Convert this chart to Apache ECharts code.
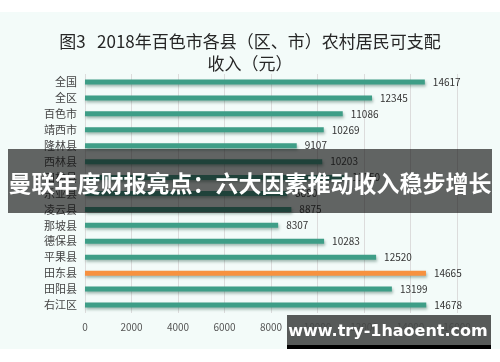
<!DOCTYPE html>
<html><head><meta charset="utf-8">
<script src="https://cdn.jsdelivr.net/npm/echarts@6/dist/echarts.min.js"></script>
<style>html,body{margin:0;padding:0;background:#fff;}#c{width:500px;height:362px;}</style>
</head><body><div id="c"></div>
<script>
const categories = ['全国','全区','百色市','靖西市','隆林县','西林县','田林县','乐业县','凌云县','那坡县','德保县','平果县','田东县','田阳县','右江区'];
const values = [14617,12345,11086,10269,9107,10203,11150,8690,8875,8307,10283,12520,14665,13199,14678];
const highlight = '田东县';
const xTicks = [0,2000,4000,6000,8000,10000,12000,14000,16000];
const titleLines = ['图3   2018年百色市各县（区、市）农村居民可支配','收入（元）'];
const bannerText = '曼联年度财报亮点：六大因素推动收入稳步增长';
const watermark = 'www.try-1haoent.com';

const font = '"Noto Sans CJK SC","Microsoft YaHei",sans-serif';
const chart = echarts.init(document.getElementById('c'));
chart.setOption({
  backgroundColor: 'transparent',
  animation: false,
  title: {
    text: titleLines.join('\n'), left: 245, textAlign: 'center', top: 26,
    textStyle: {fontFamily: font, fontSize: 17, fontWeight: 'normal', color: '#262626', lineHeight: 22}
  },
  grid: {left: 85, right: 43, top: 74, bottom: 49, containLabel: false},
  xAxis: {
    type: 'value', min: 0, max: 16000, interval: 2000,
    axisLine: {show: false}, axisTick: {show: false},
    splitLine: {lineStyle: {color: '#dcdcdc', width: 1}},
    axisLabel: {color: '#555', fontSize: 10, fontFamily: font, margin: 9,
      formatter: v => xTicks.includes(v) ? String(v) : ''}
  },
  yAxis: {
    type: 'category', data: categories, inverse: true,
    axisLine: {show: false}, axisTick: {show: false},
    axisLabel: {color: '#444', fontSize: 11, fontFamily: font, margin: 8}
  },
  series: [{
    type: 'bar', barWidth: 5,
    data: categories.map((c, i) => ({
      value: values[i],
      itemStyle: {color: c === highlight ? '#f7913f' : '#3e9e87'}
    })),
    itemStyle: {shadowBlur: 3, shadowColor: 'rgba(0,60,40,0.35)', shadowOffsetY: 2, shadowOffsetX: 1},
    label: {show: true, position: 'right', distance: 8, color: '#333', fontSize: 10, fontFamily: font}
  }],
  graphic: [
    {type: 'rect', z: -10, silent: true, shape: {x: 0, y: 12, width: 500, height: 337}, style: {fill: '#f3fbf9'}},
    {type: 'rect', z: 100, silent: true, shape: {x: 8, y: 149, width: 484, height: 64}, style: {fill: 'rgba(14,14,14,0.64)'}},
    {type: 'text', z: 101, silent: true, x: 250, y: 183,
      style: {text: bannerText, fill: '#fff', font: 'bold 23px ' + font, textAlign: 'center', textVerticalAlign: 'middle'}},
    {type: 'rect', z: 100, silent: true, shape: {x: 287, y: 315, width: 204, height: 30}, style: {fill: 'rgba(70,72,71,0.9)'}},
    {type: 'rect', z: 100, silent: true, shape: {x: 287, y: 345, width: 204, height: 4}, style: {fill: '#000'}},
    {type: 'text', z: 101, silent: true, x: 388, y: 332,
      style: {text: watermark, fill: '#fff', font: 'bold 16px "DejaVu Sans",sans-serif', textAlign: 'center', textVerticalAlign: 'middle'}}
  ]
});
</script></body></html>
